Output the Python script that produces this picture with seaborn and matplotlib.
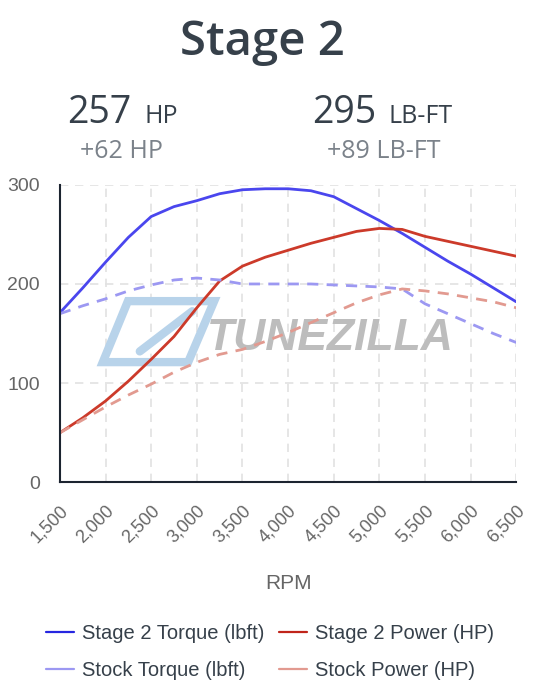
import matplotlib.pyplot as plt
import seaborn as sns
import pandas as pd
from matplotlib.lines import Line2D
from matplotlib.patches import Polygon
from matplotlib.ticker import FuncFormatter

# RPM steps and the four dyno curves
rpm = [1500, 1750, 2000, 2250, 2500, 2750, 3000, 3250, 3500, 3750, 4000,
       4250, 4500, 4750, 5000, 5250, 5500, 5750, 6000, 6250, 6500]
stage2_torque = [171, 196, 222, 247, 268, 278, 284, 291, 295, 296, 296,
                 294, 288, 276, 264, 251, 237, 223, 210, 196, 182]
stage2_power = [50, 65, 82, 102, 124, 147, 176, 203, 218, 227, 234,
                241, 247, 253, 256, 255, 248, 243, 238, 233, 228]
stock_torque = [170, 178, 185, 193, 199, 204, 206, 204, 200, 200, 200,
                200, 199, 198, 197, 195, 180, 170, 160, 150, 141]
stock_power = [50, 63, 76, 88, 99, 111, 121, 129, 134, 142, 151,
               161, 171, 181, 189, 195, 193, 190, 186, 182, 176]

x_ticks = [1500, 2000, 2500, 3000, 3500, 4000, 4500, 5000, 5500, 6000, 6500]
y_ticks = [0, 100, 200, 300]

df = pd.DataFrame({
    "rpm": rpm,
    "Stage 2 Torque (lbft)": stage2_torque,
    "Stage 2 Power (HP)": stage2_power,
    "Stock Torque (lbft)": stock_torque,
    "Stock Power (HP)": stock_power,
})

sns.set_theme(style="white")
plt.rcParams["font.family"] = ["Liberation Sans", "DejaVu Sans"]

fig = plt.figure(figsize=(5.4, 7), dpi=100)
ax = fig.add_axes([0.111, 0.311, 0.845, 0.425])

# series: (column, colour, linestyle, width, legend colour)
series = [
    ("Stage 2 Torque (lbft)", "#4a46ee", "-", 2.0, "#2626e0"),
    ("Stage 2 Power (HP)", "#cc3a2a", "-", 2.0, "#c0241a"),
    ("Stock Torque (lbft)", "#9c98f2", (0, (4, 3)), 2.0, "#9c98f2"),
    ("Stock Power (HP)", "#e29a90", (0, (4, 3)), 2.0, "#e29a90"),
]

# watermark behind the curves
ax.text(0.592, 0.485, "TUNEZILLA", transform=ax.transAxes, ha="center", va="center",
        fontsize=32, fontweight="heavy", fontstyle="italic", color="#bdbdbd",
        zorder=1)
ax.add_patch(Polygon([(0.149, 0.609), (0.338, 0.609), (0.281, 0.404), (0.094, 0.404)],
                     closed=True, transform=ax.transAxes, fill=False,
                     edgecolor="#b8d3ea", linewidth=6, joinstyle="miter", zorder=1))
ax.plot([0.175, 0.29], [0.44, 0.575], transform=ax.transAxes, color="#b8d3ea",
        linewidth=6, zorder=1)

for col, color, ls, lw, _ in series:
    sns.lineplot(data=df, x="rpm", y=col, ax=ax, color=color, linestyle=ls,
                 linewidth=lw, zorder=3)

ax.set_xlim(1500, 6500)
ax.set_ylim(0, 300)
ax.set_xticks(x_ticks)
ax.set_yticks(y_ticks)
ax.xaxis.set_major_formatter(FuncFormatter(lambda v, p: f"{int(v):,}"))
ax.grid(True, color="#e2e2e2", linestyle=(0, (5, 4)), linewidth=1.2)
ax.set_axisbelow(True)

for s in ["top", "right"]:
    ax.spines[s].set_visible(False)
for s in ["left", "bottom"]:
    ax.spines[s].set_color("#1c2430")
    ax.spines[s].set_linewidth(1.5)
    ax.spines[s].set_zorder(4)

ax.tick_params(axis="both", colors="#e2e2e2", labelcolor="#666666",
               labelsize=14, length=11, width=1.2, direction="out")
plt.setp(ax.get_xticklabels(), rotation=45, ha="right", rotation_mode="anchor",
         fontsize=13)
ax.set_ylabel("")
ax.set_xlabel("RPM", fontsize=15, color="#666666", labelpad=20)

# header texts
fig.text(0.486, 0.921, "Stage 2", ha="center", va="baseline", fontsize=34,
         fontweight="semibold", color="#36404a", family="Open Sans")
fig.text(0.124, 0.824, "257", ha="left", va="baseline", fontsize=27,
         color="#36404a", family="Open Sans")
fig.text(0.267, 0.824, "HP", ha="left", va="baseline", fontsize=18,
         color="#36404a", family="Open Sans")
fig.text(0.225, 0.774, "+62 HP", ha="center", va="baseline", fontsize=18,
         color="#7b828a", family="Open Sans")
fig.text(0.578, 0.824, "295", ha="left", va="baseline", fontsize=27,
         color="#36404a", family="Open Sans")
fig.text(0.719, 0.824, "LB-FT", ha="left", va="baseline", fontsize=18,
         color="#36404a", family="Open Sans")
fig.text(0.711, 0.774, "+89 LB-FT", ha="center", va="baseline", fontsize=18,
         color="#7b828a", family="Open Sans")

handles = [Line2D([], [], color=lc, lw=1.6) for _, _, _, _, lc in series]
labels = [c for c, _, _, _, _ in series]
# order so rows read Stage 2 first, then Stock
leg = fig.legend([handles[0], handles[2], handles[1], handles[3]],
                 [labels[0], labels[2], labels[1], labels[3]],
                 loc="center", bbox_to_anchor=(0.5, 0.069), ncol=2, frameon=False,
                 fontsize=14.5, handlelength=1.4, handletextpad=0.4,
                 columnspacing=0.7, labelspacing=0.9)
for t in leg.get_texts():
    t.set_color("#36404a")

fig.savefig("out.png", dpi=100)
